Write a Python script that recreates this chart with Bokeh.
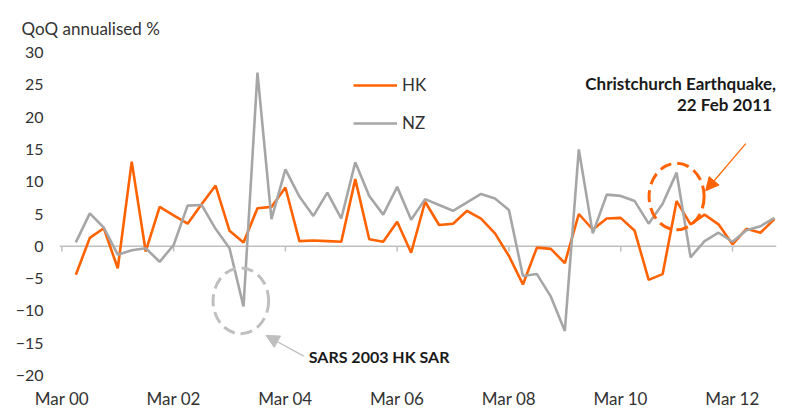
from bokeh.plotting import figure
from bokeh.models import (Range1d, FixedTicker, LinearAxis, Legend, LegendItem,
                          Label, Arrow, NormalHead, Span)
from bokeh.embed import file_html
from bokeh.resources import INLINE
import numpy as np

# ---------------- data ----------------
hk = [-4.4, 1.3, 2.8, -3.4, 13.1, -0.8, 6.1, 4.8, 3.5, 6.5, 9.4, 2.4, 0.6,
      5.9, 6.1, 9.1, 0.8, 0.9, 0.8, 0.7, 10.4, 1.1, 0.7, 3.8, -1.0, 6.9,
      3.3, 3.5, 5.5, 4.3, 2.0, -1.5, -5.9, -0.2, -0.4, -2.6, 5.0, 2.6, 4.3,
      4.4, 2.4, -5.2, -4.3, 7.0, 3.4, 4.9, 3.4, 0.3, 2.7, 2.1, 4.2]
nz = [0.6, 5.1, 2.9, -1.3, -0.6, -0.3, -2.4, 0.2, 6.3, 6.4, 2.7, -0.3, -9.3,
      26.9, 4.2, 11.9, 7.7, 4.7, 8.3, 4.3, 13.0, 7.8, 4.9, 9.2, 4.1, 7.3,
      6.4, 5.5, 6.8, 8.1, 7.4, 5.6, -4.6, -4.3, -7.8, -13.1, 15.0, 2.0, 8.0,
      7.8, 7.0, 3.5, 6.6, 11.4, -1.7, 0.8, 2.1, 0.7, 2.5, 3.1, 4.4]
tick_labels = ["Mar 00", "Mar 02", "Mar 04", "Mar 06", "Mar 08", "Mar 10", "Mar 12"]
y_ticks = [-20, -15, -10, -5, 0, 5, 10, 15, 20, 25, 30]
series_names = ["HK", "NZ"]

# quarter index: Mar 00 = 0; data runs Jun 00 .. Dec 12
x = list(np.arange(1, len(hk) + 1))
tick_pos = [8 * i for i in range(len(tick_labels))]

ORANGE = "#FF6200"
GREY = "#A6A6A6"
LIGHT = "#BFBFBF"
TXT = "#333333"
FONT = "Lato"

p = figure(width=800, height=412, output_backend="svg", toolbar_location=None,
           x_range=Range1d(-0.17, 51.15), y_range=Range1d(-20, 30),
           min_border_left=59, min_border_right=24, min_border_top=52,
           min_border_bottom=37, x_axis_type=None, y_axis_type=None)
p.outline_line_color = None
p.background_fill_color = "white"

# title
p.title.text = "QoQ annualised %"
p.title.align = "left"
p.title.offset = -38
p.title.standoff = 28
p.title.text_font = FONT
p.title.text_font_style = "normal"
p.title.text_font_size = "17px"
p.title.text_color = TXT

# y axis
yax = LinearAxis(ticker=FixedTicker(ticks=y_ticks))
yax.axis_line_color = None
yax.major_tick_line_color = None
yax.major_tick_out = 0
yax.major_tick_in = 0
yax.minor_tick_line_color = None
yax.major_label_standoff = 16
yax.major_label_text_font = FONT
yax.major_label_text_font_size = "16px"
yax.major_label_text_color = TXT
p.add_layout(yax, "left")

# bottom axis (labels only)
xax = LinearAxis(ticker=FixedTicker(ticks=tick_pos))
xax.major_label_overrides = {t: l for t, l in zip(tick_pos, tick_labels)}
xax.axis_line_color = None
xax.major_tick_line_color = None
xax.major_tick_out = 0
xax.major_tick_in = 0
xax.minor_tick_line_color = None
xax.major_label_standoff = 12
xax.major_label_text_font = FONT
xax.major_label_text_font_size = "17px"
xax.major_label_text_color = TXT
p.add_layout(xax, "below")

p.ygrid.ticker = FixedTicker(ticks=y_ticks)
p.ygrid.grid_line_color = "#D9D9D9"
p.ygrid.grid_line_width = 1.5
p.xgrid.grid_line_color = None

# zero line with small tick marks below it
p.add_layout(Span(location=0, dimension="width", line_color=LIGHT,
                  line_width=1.5, level="underlay"))
p.segment(x0=tick_pos, y0=[0] * len(tick_pos), x1=tick_pos,
          y1=[-0.8] * len(tick_pos), line_color=LIGHT, line_width=1.5,
          level="underlay")

r_hk = p.line(x, hk, line_color=ORANGE, line_width=2.6)
r_nz = p.line(x, nz, line_color=GREY, line_width=2.6)

legend = Legend(items=[LegendItem(label=series_names[0], renderers=[r_hk]),
                       LegendItem(label=series_names[1], renderers=[r_nz])],
                location=(294, 242), glyph_width=44, glyph_height=20,
                label_height=20, spacing=17, padding=0, margin=0,
                label_standoff=5, border_line_color=None,
                background_fill_alpha=0, label_text_font=FONT,
                label_text_font_size="17px", label_text_color=TXT)
p.add_layout(legend)

# annotation ellipses
p.ellipse(x=[44.0], y=[7.7], width=3.94, height=10.3, fill_alpha=0,
          line_color=ORANGE, line_width=3, line_dash="12 6")
p.ellipse(x=[12.81], y=[-8.44], width=3.98, height=10.2, fill_alpha=0,
          line_color=LIGHT, line_width=3, line_dash="12 6")

# arrows
p.add_layout(Arrow(end=NormalHead(size=13, fill_color=ORANGE, line_color=ORANGE),
                   x_start=48.95, y_start=15.9, x_end=46.08, y_end=8.6,
                   line_color=ORANGE, line_width=1.2))
p.add_layout(Arrow(end=NormalHead(size=13, fill_color=LIGHT, line_color=LIGHT),
                   x_start=17.31, y_start=-17.0, x_end=14.61, y_end=-13.8,
                   line_color=LIGHT, line_width=1.2))

# texts
def lab(xv, yv, txt, align="left", size="16px", color="#1a1a1a"):
    p.add_layout(Label(x=xv, y=yv, text=txt, text_align=align,
                       text_baseline="middle", text_font=FONT,
                       text_font_style="bold",
                       text_font_size=size, text_color=color))

lab(51.12, 25.2, "Christchurch Earthquake,", align="right", size="17px")
lab(51.12, 21.9, "22 Feb  2011", align="right", size="17px")
lab(17.67, -17.0, "SARS 2003 HK SAR")

open("out.html", "w").write(file_html(p, INLINE))
